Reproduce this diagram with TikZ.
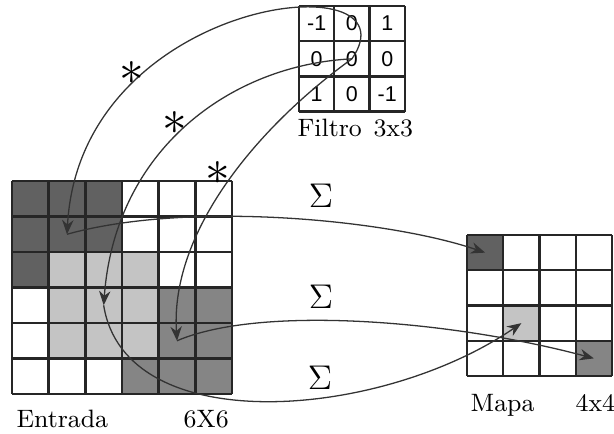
\documentclass[tikz,border=0pt]{standalone}
\usepackage{fontspec}
\newfontfamily\numfont{Liberation Sans}
\usetikzlibrary{arrows.meta}
\definecolor{celldark}{gray}{0.38}
\definecolor{cellmid}{gray}{0.52}
\definecolor{celllight}{gray}{0.77}

\begin{document}
\begin{tikzpicture}[x=0.35pt,y=-0.35pt,
  grid/.style={line width=0.9pt, color=black!85},
  fnum/.style={font=\numfont\fontsize{7.5}{9}\selectfont, inner sep=0pt},
  lbl/.style={font=\fontsize{8.8}{10}\selectfont, anchor=base west, inner sep=0pt},
  conv/.style={line width=0.45pt, color=black!80, -{Stealth[length=5pt,width=4pt]}},
  op/.style={inner sep=0pt}]
\useasboundingbox (0,0) rectangle (614,433);
% input 6x6
\def\cw{36.67}
\def\ch{35.5}
\fill[celldark] (12,181) rectangle +(3*\cw,3*\ch);
\fill[cellmid] (12+3*\cw,181+3*\ch) rectangle +(3*\cw,3*\ch);
\fill[celllight] (12+\cw,181+2*\ch) rectangle +(3*\cw,3*\ch);
\foreach \i in {0,...,6} {
  \draw[grid] (12+\i*\cw,181) -- +(0,6*\ch);
  \draw[grid] (12,181+\i*\ch) -- +(6*\cw,0);
}
\foreach \r in {1,...,6}
  \foreach \c in {1,...,6}
    \coordinate (in-\r-\c) at ({12+(\c-0.5)*\cw},{181+(\r-0.5)*\ch});
\node[lbl] (lbl-in) at (16,427) {Entrada};
\node[lbl] (lbl-in-size) at (183,427) {6X6};
% filter 3x3
\foreach \i in {0,...,3} {
  \draw[grid, line width=0.8pt] (299+\i*35.3,6) -- +(0,3*35.2);
  \draw[grid, line width=0.8pt] (299,6+\i*35.2) -- +(3*35.3,0);
}
\foreach \r/\row in {1/{-1,0,1},2/{0,0,0},3/{1,0,-1}}
  \foreach \v [count=\c] in \row
    \node[fnum] (f-\r-\c) at ({299+(\c-0.5)*35.3},{6+(\r-0.5)*35.2}) {\v};
\node[lbl] (lbl-f) at (297,136) {Filtro};
\node[lbl] (lbl-f-size) at (373,136) {3x3};
% feature map 4x4
\def\mw{36.25}
\def\mh{35.25}
\fill[celldark] (467,235) rectangle +(\mw,\mh);
\fill[celllight] (467+\mw,235+2*\mh) rectangle +(\mw,\mh);
\fill[cellmid] (467+3*\mw,235+3*\mh) rectangle +(\mw,\mh);
\foreach \i in {0,...,4} {
  \draw[grid, line width=0.8pt] (467+\i*\mw,235) -- +(0,4*\mh);
  \draw[grid, line width=0.8pt] (467,235+\i*\mh) -- +(4*\mw,0);
}
\foreach \r in {1,...,4}
  \foreach \c in {1,...,4}
    \coordinate (m-\r-\c) at ({467+(\c-0.5)*\mw},{235+(\r-0.5)*\mh});
\node[lbl] (lbl-m) at (470,411) {Mapa};
\node[lbl] (lbl-m-size) at (575,411) {4x4};
% filter slid over the input
\draw[conv] (f-2-2.center) .. controls (420,-40) and (80,-5) .. (in-2-2);
\draw[conv] (f-2-2.center) .. controls (230,65) and (115,150) .. (in-4-3);
\draw[conv] (f-2-2.center) .. controls (260,125) and (170,230) .. (in-5-5);
\foreach \x/\y [count=\k] in {132/73, 175/123, 218/173}
  \node[op, font=\fontsize{18}{20}\selectfont] (ast-\k) at (\x,\y) {$\ast$};
% sums into the map
\draw[conv] (in-2-2) .. controls (190,200) and (390,220) .. (m-1-1);
\draw[conv] (in-5-5) .. controls (260,305) and (450,320) .. (m-4-4);
\draw[conv] (in-4-3) .. controls (125,440) and (380,420) .. (m-3-2);
\foreach \x/\y [count=\k] in {321/196, 321/297, 320/378}
  \node[op, font=\large] (sum-\k) at (\x,\y) {$\Sigma$};
\end{tikzpicture}
\end{document}
